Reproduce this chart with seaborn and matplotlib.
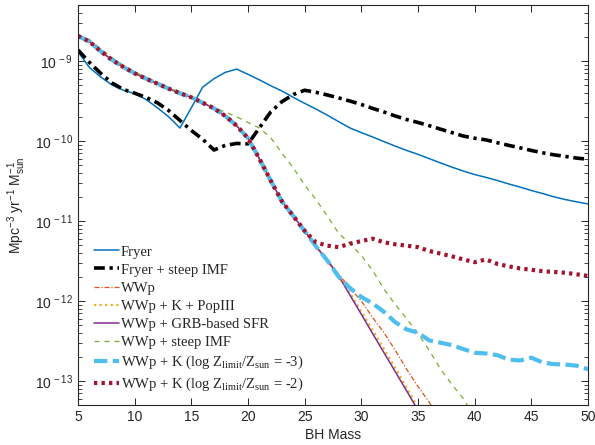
import numpy as np
import pandas as pd
import seaborn as sns
import matplotlib
matplotlib.use("Agg")
import matplotlib.pyplot as plt
from matplotlib.ticker import LogLocator, NullFormatter, FixedLocator, FuncFormatter

nan = np.nan

# ---------------- data ----------------
mass = list(range(5, 51))

fryer = [1.3e-9, 8.3e-10, 6.3e-10, 5.0e-10, 4.3e-10, 3.9e-10, 3.3e-10, 2.6e-10, 2.0e-10, 1.45e-10,
         2.6e-10, 4.7e-10, 6.0e-10, 7.2e-10, 7.9e-10, 6.8e-10, 5.8e-10, 4.9e-10, 4.2e-10, 3.5e-10,
         2.95e-10, 2.5e-10, 2.1e-10, 1.74e-10, 1.45e-10, 1.27e-10, 1.12e-10, 9.8e-11, 8.6e-11, 7.6e-11,
         6.8e-11, 6.0e-11, 5.3e-11, 4.7e-11, 4.2e-11, 3.8e-11, 3.5e-11, 3.2e-11, 2.9e-11, 2.65e-11,
         2.4e-11, 2.2e-11, 2.0e-11, 1.85e-11, 1.73e-11, 1.63e-11]

fryer_steep = [1.37e-9, 9.6e-10, 7.0e-10, 5.3e-10, 4.4e-10, 3.95e-10, 3.5e-10, 3.0e-10, 2.4e-10, 1.8e-10,
               1.35e-10, 1.05e-10, 7.7e-11, 8.8e-11, 9.3e-11, 9.2e-11, 1.45e-10, 2.3e-10, 3.1e-10, 3.8e-10,
               4.3e-10, 4.05e-10, 3.75e-10, 3.45e-10, 3.15e-10, 2.85e-10, 2.55e-10, 2.3e-10, 2.05e-10, 1.85e-10,
               1.7e-10, 1.55e-10, 1.4e-10, 1.27e-10, 1.15e-10, 1.08e-10, 1.03e-10, 9.5e-11, 8.8e-11, 8.2e-11,
               7.6e-11, 7.1e-11, 6.7e-11, 6.4e-11, 6.1e-11, 5.9e-11]

# common early part of the WWp-family curves (M = 5..27)
wwp_early = [2.05e-9, 1.75e-9, 1.32e-9, 1.03e-9, 8.4e-10, 7.0e-10, 6.0e-10, 5.2e-10, 4.5e-10, 3.95e-10,
             3.5e-10, 3.0e-10, 2.55e-10, 2.05e-10, 1.55e-10, 1.08e-10, 6.0e-11, 3.2e-11, 1.75e-11, 1.15e-11,
             7.5e-12, 4.8e-12, 3.2e-12]

# tails for M = 28..50
wwp_tail = [2.15e-12, 1.45e-12, 1.0e-12, 6.2e-13, 4.0e-13, 2.4e-13, 1.4e-13, 8.5e-14, 5.4e-14, 3.0e-14,
            nan, nan, nan, nan, nan, nan, nan, nan, nan, nan, nan, nan, nan]
popiii_tail = [2.1e-12, 1.25e-12, 7.3e-13, 4.3e-13, 2.5e-13, 1.45e-13, 8.2e-14, 4.6e-14, 2.6e-14,
               nan, nan, nan, nan, nan, nan, nan, nan, nan, nan, nan, nan, nan, nan]
grb_tail = [2.05e-12, 1.18e-12, 6.8e-13, 3.9e-13, 2.25e-13, 1.3e-13, 7.5e-14, 4.3e-14, 2.5e-14,
            nan, nan, nan, nan, nan, nan, nan, nan, nan, nan, nan, nan, nan, nan]
zm3_tail = [2.0e-12, 1.45e-12, 1.12e-12, 9.3e-13, 7.3e-13, 5.4e-13, 4.4e-13, 4.0e-13, 3.2e-13, 3.0e-13,
            2.8e-13, 2.5e-13, 2.25e-13, 2.2e-13, 2.1e-13, 1.85e-13, 1.8e-13, 1.95e-13, 1.7e-13, 1.62e-13,
            1.6e-13, 1.55e-13, 1.4e-13]
# M = 26..50
zm2_tail = [5.4e-12, 4.9e-12, 4.7e-12, 5.2e-12, 5.6e-12, 6.0e-12, 5.4e-12, 5.1e-12, 4.9e-12, 4.7e-12,
            4.2e-12, 3.9e-12, 3.6e-12, 3.3e-12, 3.05e-12, 3.3e-12, 2.9e-12, 2.7e-12, 2.55e-12, 2.45e-12,
            2.35e-12, 2.3e-12, 2.25e-12, 2.15e-12, 2.05e-12]

wwp_steep = [2.1e-9, 1.85e-9, 1.42e-9, 1.1e-9, 8.8e-10, 7.3e-10, 6.2e-10, 5.35e-10, 4.6e-10, 4.05e-10,
             3.55e-10, 3.05e-10, 2.6e-10, 2.3e-10, 2.0e-10, 1.7e-10, 1.45e-10, 1.1e-10, 7.0e-11, 4.6e-11,
             2.8e-11, 1.85e-11, 1.15e-11, 7.0e-12, 5.2e-12, 3.7e-12, 2.4e-12, 1.4e-12, 9.0e-13, 6.0e-13,
             3.9e-13, 2.4e-13, 1.4e-13, 9.0e-14, 6.0e-14, 3.5e-14, nan, nan, nan, nan,
             nan, nan, nan, nan, nan, nan]

wwp = wwp_early + wwp_tail
wwp_popiii = wwp_early + popiii_tail
wwp_grb = wwp_early + grb_tail
wwp_zm3 = wwp_early + zm3_tail
wwp_zm2 = wwp_early[:21] + zm2_tail

labels = ["Fryer", "Fryer + steep IMF", "WWp", "WWp + K + PopIII", "WWp + GRB-based SFR",
          "WWp + steep IMF",
          r"WWp + K (log Z$_{\mathdefault{limit}}$/Z$_{\mathdefault{sun}}$ = -3)",
          r"WWp + K (log Z$_{\mathdefault{limit}}$/Z$_{\mathdefault{sun}}$ = -2)"]
series = [fryer, fryer_steep, wwp, wwp_popiii, wwp_grb, wwp_steep, wwp_zm3, wwp_zm2]

# ---------------- styling ----------------
sns.set_theme(style="ticks")
plt.rcParams["font.family"] = ["Liberation Sans", "DejaVu Sans"]
plt.rcParams["mathtext.fontset"] = "custom"
plt.rcParams["mathtext.rm"] = "Liberation Sans"
plt.rcParams["mathtext.it"] = "Liberation Sans:italic"

colors = ["#0072BD", "#000000", "#D95319", "#EDB120", "#7E2F8E", "#77AC30", "#4DBEEE", "#A2142F"]
widths = [1.1, 2.6, 0.9, 1.6, 1.1, 0.9, 3.0, 3.0]
dashes = [None, (3.0, 1.3, 0.9, 1.3), (4, 1.5, 1, 1.5), (1, 1.5), None, (4, 4), (3.2, 1.3), (0.8, 1.0)]

fig = plt.figure(figsize=(5.95, 4.45), dpi=100)
ax = fig.add_axes([78 / 595, 40 / 445, 510 / 595, 400 / 445])

for vals, lab, col, lw, ds in zip(series, labels, colors, widths, dashes):
    df = pd.DataFrame({"mass": mass, "rate": vals})
    sns.lineplot(data=df, x="mass", y="rate", ax=ax, color=col, lw=lw, label=lab, legend=False)
    ln = ax.lines[-1]
    if ds is not None:
        ln.set_dashes(ds)
    if lab.endswith("-2)"):
        ln.set_dash_capstyle("butt")

ax.set_yscale("log")
ax.set_xlim(5, 50)
ax.set_ylim(5e-14, 5e-9)
ax.xaxis.set_major_locator(FixedLocator(list(range(5, 51, 5))))
ax.yaxis.set_major_locator(LogLocator(base=10, numticks=20))
ax.yaxis.set_minor_locator(LogLocator(base=10, subs=np.arange(2, 10), numticks=20))
ax.yaxis.set_minor_formatter(NullFormatter())
ax.yaxis.set_major_formatter(FuncFormatter(
    lambda v, p: r"$\mathdefault{10^{\,%d}}$" % int(round(np.log10(v)))))

ax.tick_params(axis="both", which="both", direction="in", top=True, right=True,
               labelsize=10, colors="#262626", labelcolor="#262626")
ax.tick_params(axis="both", which="major", length=5, width=0.7)
ax.tick_params(axis="y", which="minor", length=2.8, width=0.6)
for s in ax.spines.values():
    s.set_linewidth(0.8)
    s.set_color("#262626")

ax.set_xlabel("BH Mass", fontsize=10, color="#262626", labelpad=3)
ax.set_ylabel(r"Mpc$^{-3}$ yr$^{-1}$ M$_{\mathdefault{sun}}^{-1}$", fontsize=10, color="#262626", labelpad=5)

handles, labs = ax.get_legend_handles_labels()
leg = ax.legend(handles, labs, loc="lower left", bbox_to_anchor=(0.031, 0.03), frameon=False,
                borderpad=0, borderaxespad=0, handlelength=1.75, handletextpad=0.12,
                labelspacing=0.33, prop={"family": "Liberation Serif", "size": 10.5})

fig.savefig("out.png", dpi=100)
